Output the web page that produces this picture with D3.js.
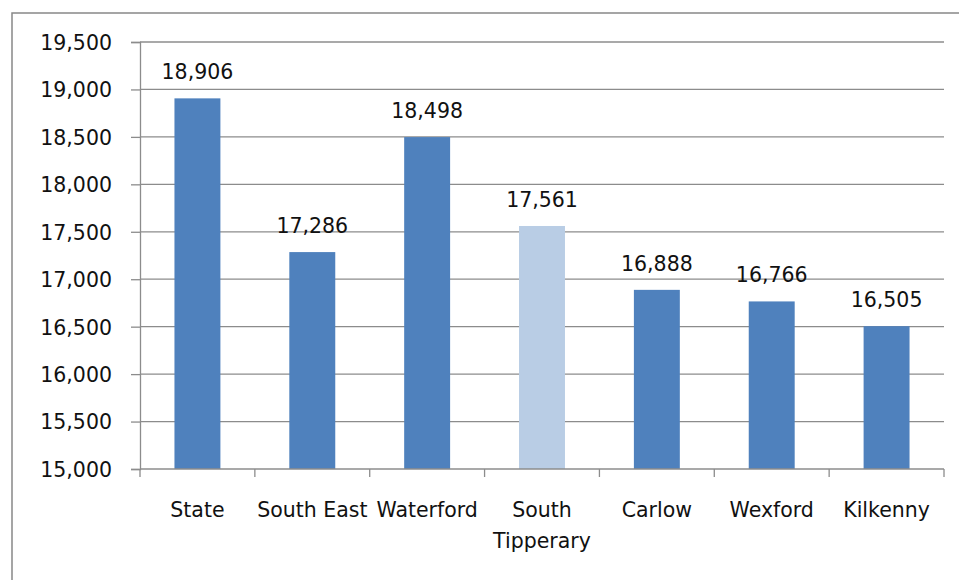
<!DOCTYPE html>
<html>
<head>
<meta charset="utf-8">
<script src="https://cdn.jsdelivr.net/npm/d3@7"></script>
<style>
  body { margin:0; background:#fff; }
  svg { display:block; }
</style>
</head>
<body>
<svg id="svg"></svg>
<script>
// data
var categories = ["State", "South East", "Waterford", "South Tipperary", "Carlow", "Wexford", "Kilkenny"];
var values = [18906, 17286, 18498, 17561, 16888, 16766, 16505];
var highlight = ["South Tipperary"];
var yTicks = [15000, 15500, 16000, 16500, 17000, 17500, 18000, 18500, 19000, 19500];

var W = 959, H = 580;
var margin = {left:140, right:15, top:42, bottom:111};
var fontsize = 20.5;

var svg = d3.select("#svg").attr("width", W).attr("height", H);

// outer chart frame
svg.append("rect")
  .attr("x", 12).attr("y", 13)
  .attr("width", W + 20).attr("height", H + 20)
  .attr("fill", "#fff")
  .attr("stroke", "#888").attr("stroke-width", 1.5);

var plotW = 944 - margin.left, plotH = 469 - margin.top;

var g = svg.append("g").attr("transform", `translate(${margin.left},${margin.top})`);

var x = d3.scaleBand().domain(categories).range([0, plotW]);
var y = d3.scaleLinear().domain([15000, 19500]).range([plotH, 0]);

// gridlines
g.selectAll(".grid").data(yTicks.slice(1))
  .enter().append("line")
  .attr("class", "grid")
  .attr("x1", 0).attr("x2", plotW)
  .attr("y1", d => y(d)).attr("y2", d => y(d))
  .attr("stroke", "#8c8c8c").attr("stroke-width", 1.3);

// y axis
var yAxis = d3.axisLeft(y).tickValues(yTicks).tickSize(9).tickPadding(19)
  .tickFormat(d3.format(","));
var yG = g.append("g").call(yAxis);
yG.select(".domain").attr("stroke", "#8c8c8c").attr("stroke-width", 1.3);
yG.selectAll(".tick line").attr("stroke", "#8c8c8c").attr("stroke-width", 1.3);
yG.selectAll("text")
  .style("font-family", "DejaVu Sans").style("font-size", fontsize + "px")
  .attr("fill", "#111").attr("dy", "0.36em");

// bars
var bw = x.step() * 0.4;
g.selectAll(".bar").data(categories)
  .enter().append("rect")
  .attr("class", "bar")
  .attr("x", d => x(d) + x.step() / 2 - bw / 2)
  .attr("width", bw)
  .attr("y", (d, i) => y(values[i]))
  .attr("height", (d, i) => plotH - y(values[i]))
  .attr("fill", d => highlight.indexOf(d) >= 0 ? "#b9cde5" : "#4f81bd");

// value labels
g.selectAll(".val").data(categories)
  .enter().append("text")
  .attr("class", "val")
  .attr("x", d => x(d) + x.step() / 2)
  .attr("y", (d, i) => y(values[i]) - 19)
  .attr("text-anchor", "middle")
  .style("font-family", "DejaVu Sans").style("font-size", fontsize + "px")
  .attr("fill", "#111")
  .text((d, i) => d3.format(",")(values[i]));

// x axis line and tick marks at band edges
g.append("line")
  .attr("x1", 0).attr("x2", plotW).attr("y1", plotH).attr("y2", plotH)
  .attr("stroke", "#8c8c8c").attr("stroke-width", 1.3);
var edges = categories.map(d => x(d)).concat([plotW]);
g.selectAll(".xtick").data(edges)
  .enter().append("line")
  .attr("x1", d => d).attr("x2", d => d)
  .attr("y1", plotH).attr("y2", plotH + 8)
  .attr("stroke", "#8c8c8c").attr("stroke-width", 1.3);

// category labels (South Tipperary wraps)
var xl = g.selectAll(".xl").data(categories)
  .enter().append("text")
  .attr("class", "xl")
  .attr("text-anchor", "middle")
  .style("font-family", "DejaVu Sans").style("font-size", fontsize + "px")
  .attr("fill", "#111")
  .attr("transform", d => `translate(${x(d) + x.step() / 2},${plotH + 48})`);
xl.each(function(d) {
  var parts = d === "South Tipperary" ? ["South", "Tipperary"] : [d];
  d3.select(this).selectAll("tspan").data(parts)
    .enter().append("tspan")
    .attr("x", 0).attr("dy", (p, i) => i === 0 ? 0 : 31)
    .text(p => p);
});
</script>
</body>
</html>
